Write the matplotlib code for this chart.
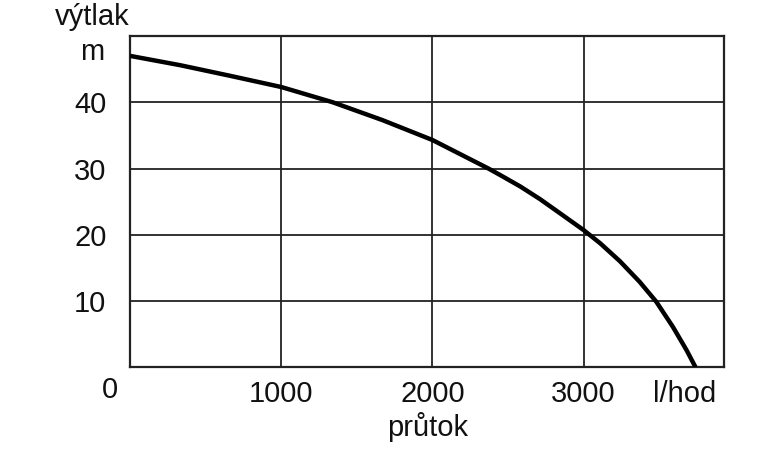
import numpy as np
import matplotlib
matplotlib.use('Agg')
import matplotlib.pyplot as plt

plt.rcParams['font.family'] = ['Liberation Sans', 'DejaVu Sans']

# charakteristika cerpadla: prutok [l/hod] -> vytlak [m]
prutok = [0, 330, 660, 1000, 1340, 1670, 2000, 2370, 2445, 2580, 2710,
          2840, 3000, 3110, 3240, 3370, 3480, 3590, 3680, 3740]
vytlak = [47.0, 45.6, 44.0, 42.3, 40.0, 37.3, 34.3, 30.0, 29.05, 27.3, 25.4,
          23.3, 20.7, 18.7, 16.0, 12.9, 9.9, 6.1, 2.6, 0.0]

x_ticks = [1000, 2000, 3000]
y_ticks = [10, 20, 30, 40]

fig = plt.figure(figsize=(7.65, 4.5), dpi=100)
ax = fig.add_axes([0.170, 0.1838, 0.7768, 0.7362])

ax.set_xlim(0, 3930)
ax.set_ylim(0, 50)

for x in x_ticks:
    ax.axvline(x, color='#222222', lw=1.3, zorder=1)
for y in y_ticks:
    ax.axhline(y, color='#222222', lw=1.3, zorder=1)

ax.plot(prutok, vytlak, color='black', lw=3.2, solid_joinstyle='round',
        solid_capstyle='butt', zorder=3)

for s in ax.spines.values():
    s.set_linewidth(1.6)
    s.set_color('#222222')

fs = 21
# popisky os
jednotka_x = 3668
ax.set_xticks(x_ticks + [jednotka_x])
ax.set_xticklabels([str(v) for v in x_ticks] + ['l/hod'])
ax.set_yticks(y_ticks)
ax.set_yticklabels([str(v) for v in y_ticks])
ax.tick_params(axis='both', length=0, labelsize=fs, colors='#111111')
ax.tick_params(axis='x', pad=9)
ax.tick_params(axis='y', pad=17)

ax.text(-80, -1.3, '0', ha='right', va='top', fontsize=fs, color='#111111')
ax.text(-170, 47.6, 'm', ha='right', va='center', fontsize=fs, color='#111111')
fig.text(92 / 765, 1 - 17 / 450, 'výtlak', ha='center', va='center', fontsize=fs, color='#111111')
ax.set_xlabel('průtok', fontsize=fs, color='#111111', labelpad=3)

fig.savefig('out.png', dpi=100, facecolor='white')
